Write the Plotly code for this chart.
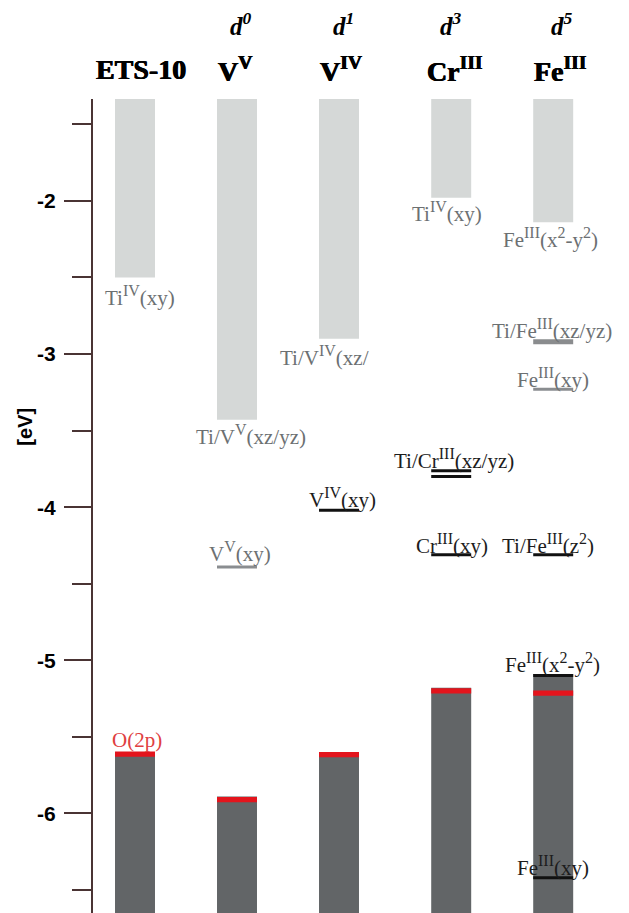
import plotly.graph_objects as go

# ---------------- data ----------------
columns = ["ETS-10", "V<sup>V</sup>", "V<sup>IV</sup>", "Cr<sup>III</sup>", "Fe<sup>III</sup>"]
d_config = ["", "d<sup>0</sup>", "d<sup>1</sup>", "d<sup>3</sup>", "d<sup>5</sup>"]
col_x = [0, 1, 2, 3.1, 4.1]

cb_top = -1.33
cb_bottom = [-2.50, -3.43, -2.90, -1.98, -2.14]
cb_labels = ["Ti|IV|(xy)", "Ti/V|V|(xz/yz)", "Ti/V|IV|(xz/",
             "Ti|IV|(xy)", "Fe|III|(x|2|-y|2|)"]

vb_bottom = -6.65
vb_top = [-5.60, -5.89, -5.60, -5.18, -5.09]
o2p_level = [-5.613, -5.91, -5.616, -5.20, -5.215]

lvl_col = [1, 2, 3, 3, 3, 4, 4, 4, 4, 4]
lvl_energy = [-4.39, -4.02, -3.762, -3.80, -4.31, -2.92, -3.23, -4.31, -5.10, -6.42]
lvl_kind = ["empty", "filled", "filled", "filled", "filled", "empty_thick", "empty", "filled", "filled", "filled"]
lvl_label = ["V|V|(xy)", "V|IV|(xy)", "Ti/Cr|III|(xz/yz)", "",
             "Cr|III|(xy)", "Ti/Fe|III|(xz/yz)", "Fe|III|(xy)",
             "Ti/Fe|III|(z|2|)", "Fe|III|(x|2|-y|2|)",
             "Fe|III|(xy)"]

y_ticks = [-2, -3, -4, -5, -6]
y_ticktext = ["-2", "-3", "-4", "-5", "-6"]
y_minor = [-1.5, -2.5, -3.5, -4.5, -5.5, -6.5]

# ---------------- style ----------------
W, H = 629, 913
BAR_W = 0.392
HALF = BAR_W / 2
LIGHT = "#d5d8d7"
DARK = "#626567"
RED = "#e3141c"
AXIS = "#4a3434"
GRAY_TXT = "#6c7072"
DARK_TXT = "#1c1c1c"
SERIF = "Liberation Serif"
SANS = "Liberation Sans"
LBL_SIZE = 21
SUP_SIZE = 16
HEAVY = "0.4px 0 0 #000, -0.4px 0 0 #000"


def fmt(s, sup_size=SUP_SIZE):
    """'A|B|C' -> A<sup>B</sup>C with enlarged superscripts."""
    parts = s.split("|")
    out = ""
    for i, p in enumerate(parts):
        if i % 2 == 1:
            out += '<sup><span style="font-size:%dpx">%s</span></sup>' % (sup_size, p)
        else:
            out += p
    return out


fig = go.Figure()

# conduction-band blocks
fig.add_trace(go.Bar(x=col_x, y=[cb_top - b for b in cb_bottom], base=cb_bottom,
                     width=BAR_W, marker=dict(color=LIGHT, line=dict(width=0)),
                     hoverinfo="skip", showlegend=False))
# valence-band blocks
fig.add_trace(go.Bar(x=col_x, y=[t - vb_bottom for t in vb_top], base=[vb_bottom] * 5,
                     width=BAR_W, marker=dict(color=DARK, line=dict(width=0)),
                     hoverinfo="skip", showlegend=False))
# O(2p) red band
RB = 0.034
fig.add_trace(go.Bar(x=col_x, y=[RB] * 5, base=[v - RB / 2 for v in o2p_level],
                     width=BAR_W, marker=dict(color=RED, line=dict(width=0)),
                     hoverinfo="skip", showlegend=False))

# level lines
styles = {"empty": ("#8a8d90", 3), "empty_thick": ("#8a8c8e", 5), "filled": ("#111111", 3)}
for kind, (color, width) in styles.items():
    xs, ys = [], []
    for c, e, k in zip(lvl_col, lvl_energy, lvl_kind):
        if k != kind:
            continue
        cx = col_x[c]
        xs += [cx - HALF, cx + HALF, None]
        ys += [e, e, None]
    fig.add_trace(go.Scatter(x=xs, y=ys, mode="lines", line=dict(color=color, width=width),
                             hoverinfo="skip", showlegend=False))

annotations = []

# conduction-band labels
cb_shift = [(5, -19, "center"), (14, -15, "center"), (-61, -17, "left"), (-4, -14, "center"), (-3, -16, "center")]
for i, (cx, b, lab) in enumerate(zip(col_x, cb_bottom, cb_labels)):
    xs_, ys_, anc = cb_shift[i]
    annotations.append(dict(x=cx, y=b, xref="x", yref="y", text=fmt(lab), showarrow=False,
                            xanchor=anc, yanchor="middle", xshift=xs_, yshift=ys_,
                            font=dict(family=SERIF, size=LBL_SIZE, color=GRAY_TXT)))

# level labels
lvl_shift = [(3, 15), (3, 12), (3, 12), (0, 0), (1, 11), (-1, 13), (0, 11), (-5, 11), (-1, 13), (0, 12)]
for c, e, k, lab, (xs_, ys_) in zip(lvl_col, lvl_energy, lvl_kind, lvl_label, lvl_shift):
    if not lab:
        continue
    col = GRAY_TXT if k.startswith("empty") else DARK_TXT
    annotations.append(dict(x=col_x[c], y=e, xref="x", yref="y", text=fmt(lab), showarrow=False,
                            xanchor="center", yanchor="middle", xshift=xs_, yshift=ys_,
                            font=dict(family=SERIF, size=LBL_SIZE, color=col)))

# O(2p) label
annotations.append(dict(x=col_x[0], y=vb_top[0], xref="x", yref="y", text="O(2p)", showarrow=False,
                        xanchor="center", yanchor="middle", xshift=2, yshift=12,
                        font=dict(family=SERIF, size=LBL_SIZE, color="#e0403f")))

# column headers
head_shift = [6, -2, 2, 4, 7]
d_shift = [0, 4, 4, 0, 9]
for cx, name, d, hs, ds in zip(col_x, columns, d_config, head_shift, d_shift):
    annotations.append(dict(x=cx, y=1, xref="x", yref="paper", text=name,
                            showarrow=False, xanchor="center", yanchor="middle", xshift=hs, yshift=30,
                            font=dict(family=SERIF, size=28, color="#000000", weight="bold", shadow=HEAVY)))
    if d:
        annotations.append(dict(x=cx, y=1, xref="x", yref="paper", text="<i>" + d + "</i>",
                                showarrow=False, xanchor="center", yanchor="middle", xshift=ds, yshift=75,
                                font=dict(family=SERIF, size=25, color="#000000", weight="bold")))

# y-axis title
annotations.append(dict(x=0, y=-3.475, xref="paper", yref="y", text="[eV]", showarrow=False,
                        xanchor="center", yanchor="middle", xshift=-68, textangle=-90,
                        font=dict(family=SANS, size=20, color="#000000", weight="bold")))

L, T = 93, 99
plot_w = W - L
unit = 102.0
x0 = -(135 - L) / unit

fig.update_layout(
    width=W, height=H,
    margin=dict(l=L, r=0, t=T, b=0, pad=0),
    paper_bgcolor="white", plot_bgcolor="white",
    barmode="overlay",
    showlegend=False,
    xaxis=dict(range=[x0, x0 + plot_w / unit], visible=False, fixedrange=True),
    yaxis=dict(range=[vb_bottom, cb_top - 0.005], showgrid=False, zeroline=False,
               showline=True, linecolor=AXIS, linewidth=2,
               ticks="outside", ticklen=27, tickwidth=2, tickcolor=AXIS,
               tickvals=y_ticks, ticktext=y_ticktext, ticklabelstandoff=4,
               tickfont=dict(family=SANS, size=21, color="#000000", weight="bold"),
               minor=dict(tickvals=y_minor, ticks="outside", ticklen=19, tickwidth=2, tickcolor=AXIS),
               fixedrange=True),
    annotations=annotations,
)

fig.write_html("out.html", config={"displayModeBar": False},
               post_script="document.body.style.margin='0px';document.body.style.overflow='hidden';")
